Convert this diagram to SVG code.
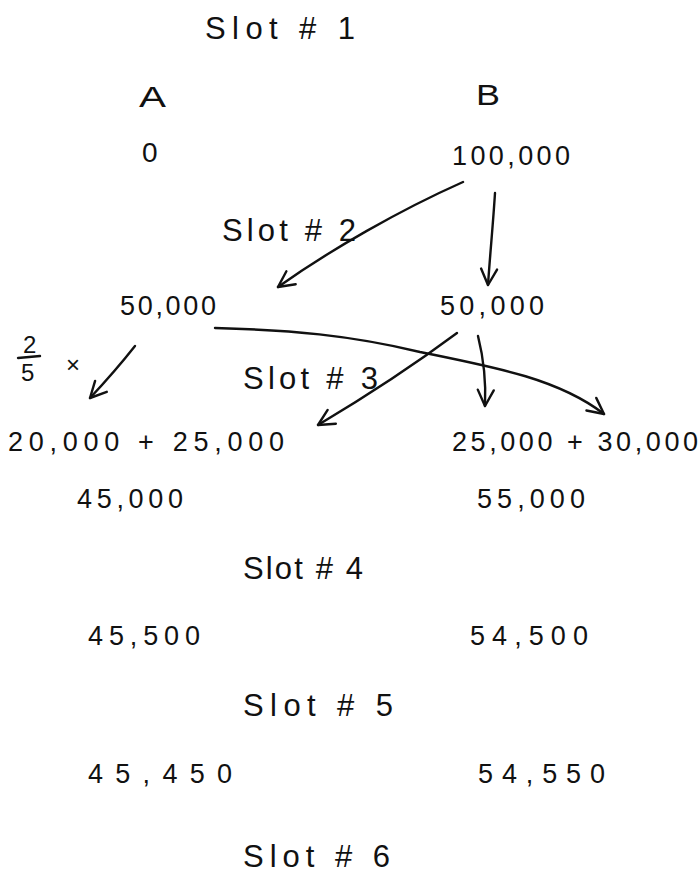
<svg xmlns="http://www.w3.org/2000/svg" width="700" height="873" viewBox="0 0 700 873">
<style>
text{font-family:"Liberation Sans","DejaVu Sans",sans-serif;font-size:27px;fill:#111;}
.s{font-size:31px;}
.c{fill:none;stroke:#111;stroke-width:2.4;stroke-linecap:round;}
</style>
<defs>
<marker id="ah" viewBox="0 0 20 20" refX="18" refY="10" markerWidth="20" markerHeight="20" markerUnits="userSpaceOnUse" orient="auto">
<path d="M2,2 L18,10 L2,18" fill="none" stroke="#111" stroke-width="2.4" stroke-linecap="round" stroke-linejoin="round"/>
</marker>
</defs>
<rect width="700" height="873" fill="#fff"/>
<g id="slot1"><text class="s" x="205" y="39" textLength="150" lengthAdjust="spacing">Slot # 1</text></g>
<g id="colA"><text x="139" y="107" style="font-size:30px" textLength="27" lengthAdjust="spacingAndGlyphs">A</text></g>
<g id="colB"><text x="476" y="105" style="font-size:30px" textLength="24" lengthAdjust="spacingAndGlyphs">B</text></g>
<g id="a1"><text x="142" y="162" style="font-size:28px">0</text></g>
<g id="b1"><text x="452" y="165" textLength="118" lengthAdjust="spacing">100,000</text></g>
<g id="slot2"><text class="s" x="222" y="241" textLength="134" lengthAdjust="spacing">Slot # 2</text></g>
<g id="a2"><text x="120" y="315" textLength="96" lengthAdjust="spacing">50,000</text></g>
<g id="b2"><text x="440" y="315" textLength="104" lengthAdjust="spacing">50,000</text></g>
<g id="frac">
<text x="23" y="353" style="font-size:24px">2</text>
<line x1="18" y1="358" x2="40" y2="356" class="c" stroke-width="2"/>
<text x="21" y="381" style="font-size:24px">5</text>
<text x="66" y="373" style="font-size:24px">×</text>
</g>
<g id="slot3"><text class="s" x="243" y="389" textLength="135" lengthAdjust="spacing">Slot # 3</text></g>
<g id="a3"><text x="8" y="451" textLength="276" lengthAdjust="spacing">20,000 + 25,000</text></g>
<g id="b3"><text x="452" y="451" textLength="246" lengthAdjust="spacing">25,000 + 30,000</text></g>
<g id="a3s"><text x="77" y="508" textLength="106" lengthAdjust="spacing">45,000</text></g>
<g id="b3s"><text x="477" y="508" textLength="108" lengthAdjust="spacing">55,000</text></g>
<g id="slot4"><text class="s" x="243" y="579" textLength="120" lengthAdjust="spacing">Slot # 4</text></g>
<g id="a4"><text x="88" y="645" textLength="112" lengthAdjust="spacing">45,500</text></g>
<g id="b4"><text x="470" y="645" textLength="118" lengthAdjust="spacing">54,500</text></g>
<g id="slot5"><text class="s" x="243" y="716" textLength="150" lengthAdjust="spacing">Slot # 5</text></g>
<g id="a5"><text x="88" y="783" textLength="144" lengthAdjust="spacing">45,450</text></g>
<g id="b5"><text x="478" y="783" textLength="127" lengthAdjust="spacing">54,550</text></g>
<g id="slot6"><text class="s" x="243" y="867" textLength="147" lengthAdjust="spacing">Slot # 6</text></g>
<g id="connectors">
<path class="c" d="M463,182 C400,210 330,250 278,287" marker-end="url(#ah)"/>
<path class="c" d="M495,193 C493,225 490,255 488,285" marker-end="url(#ah)"/>
<path class="c" d="M135,346 C120,365 105,382 90,398" marker-end="url(#ah)"/>
<path class="c" d="M457,333 C410,368 360,400 318,425" marker-end="url(#ah)"/>
<path class="c" d="M478,336 C484,360 486,385 485,406" marker-end="url(#ah)"/>
<path class="c" d="M215,328 C290,330 350,335 420,352 C500,368 560,380 604,414" marker-end="url(#ah)"/>
</g>
</svg>
